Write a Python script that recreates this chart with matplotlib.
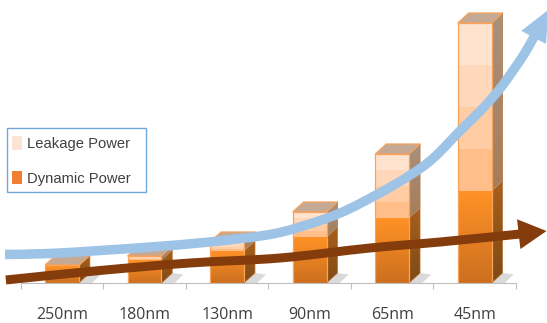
import matplotlib
matplotlib.use("Agg")
import matplotlib.pyplot as plt
import numpy as np
from matplotlib.colors import LinearSegmentedColormap
from matplotlib.patches import Patch, PathPatch, Polygon, Rectangle
from matplotlib.path import Path
from matplotlib.transforms import IdentityTransform

nodes = ["250nm", "180nm", "130nm", "90nm", "65nm", "45nm"]
dynamic = [17, 23, 32, 46, 65, 92]
leakage = [1, 4, 9, 25, 64, 168]

# trend curves, x in category slots
leak_x = [-0.19, 0.35, 0.96, 1.57, 2.29, 2.98, 3.38, 3.87, 4.35, 4.72, 5.0, 5.32, 5.53, 5.70, 5.84, 5.96, 6.10, 6.21, 6.39]
leak_y = [28.5, 29.5, 32.5, 36, 41, 48, 56, 70, 90, 108, 125, 152, 169, 184, 198, 212, 229, 245, 273]
dyn_x = [-0.18, 0.96, 2.05, 3.14, 4.23, 5.08, 6.05, 6.37]
dyn_y = [3, 12.5, 20, 25, 35, 41, 49, 52]

bar_w = 0.41
depth_x = 0.133
depth_y = 10
band_colors = ["#FFBE8A", "#FFCCA4", "#FFD8BB", "#FFE3CF"]
edge = "#F8A25A"

fig = plt.figure(figsize=(5.47, 3.23), dpi=100)
ax = fig.add_axes([20.7 / 547, 40 / 323, 495.3 / 547, 283 / 323])
ax.set_xlim(0, 6)
ax.set_ylim(0, 283)


def gradient(poly, top, bottom, z):
    # vertical colour ramp clipped to a polygon
    poly = np.array(poly)
    cmap = LinearSegmentedColormap.from_list("ramp", [top, bottom])
    extent = [poly[:, 0].min(), poly[:, 0].max(), poly[:, 1].min(), poly[:, 1].max()]
    im = ax.imshow(np.linspace(0, 1, 64).reshape(-1, 1), cmap=cmap, extent=extent,
                   origin="upper", aspect="auto", zorder=z)
    im.set_clip_path(Polygon(poly, transform=ax.transData))


def slant(x, y0, y1):
    return [(x, y0), (x + depth_x, y0 + depth_y), (x + depth_x, y1 + depth_y), (x, y1)]


def smooth_path(pts):
    # Catmull-Rom through the points, written as cubic beziers
    verts = [pts[0]]
    codes = [Path.MOVETO]
    for k in range(len(pts) - 1):
        p0 = pts[max(k - 1, 0)]
        p1 = pts[k]
        p2 = pts[k + 1]
        p3 = pts[min(k + 2, len(pts) - 1)]
        verts += [p1 + (p2 - p0) / 6, p2 - (p3 - p1) / 6, p2]
        codes += [Path.CURVE4] * 3
    return Path(verts, codes)


def arrow(xs, ys, color, width, head_len, head_w, z):
    # the head is built in pixels so it keeps its shape on unequal axis scales
    pts = ax.transData.transform(np.column_stack([xs, ys]))
    d = pts[-1] - pts[-2]
    d = d / np.hypot(*d)
    n = np.array([-d[1], d[0]])
    base = pts[-1] - d * head_len
    line = np.vstack([pts[:-1], base + d])
    px = IdentityTransform()
    ax.add_patch(PathPatch(smooth_path(line), fc="none", ec=color, lw=width * 0.72, transform=px,
                           capstyle="butt", joinstyle="round", zorder=z, clip_on=False))
    head = [pts[-1], base + n * head_w / 2, base - n * head_w / 2]
    ax.add_patch(Polygon(head, closed=True, fc=color, ec="none", transform=px,
                         zorder=z, clip_on=False))


for i, (d, l) in enumerate(zip(dynamic, leakage)):
    x0 = i + 0.5 - bar_w / 2
    x1 = x0 + bar_w
    total = d + l

    # floor shadow
    ax.add_patch(Polygon([(x1, 0), (x1 + depth_x, depth_y), (x1 + depth_x * 2, depth_y * 0.85),
                          (x1 + depth_x * 1.2, 0)], fc="#BDBDBD", ec="none", alpha=0.55, zorder=1))

    # right side
    gradient(slant(x1, 0, d), "#A8601C", "#7F4A15", 2)
    gradient(slant(x1, d, total), "#A8917E", "#A67C58", 2)

    # top
    ax.add_patch(Polygon([(x0, total), (x1, total), (x1 + depth_x, total + depth_y),
                          (x0 + depth_x, total + depth_y)], fc="#C4AA95", ec=edge, lw=0.9, zorder=3))

    # front
    gradient([(x0, 0), (x1, 0), (x1, d), (x0, d)], "#FF9226", "#CC6F1F", 3)
    bottom = d
    for c in band_colors:
        ax.bar(i + 0.5, l / 4, bar_w, bottom=bottom, color=c, lw=0, zorder=3)
        bottom += l / 4
    ax.bar(i + 0.5, total, bar_w, fc="none", ec=edge, lw=0.9, zorder=4)
    ax.plot([x1, x1 + depth_x, x1 + depth_x], [0, depth_y, total + depth_y],
            color="#B5743A", lw=0.5, zorder=4)

ax.set_xlim(0, 6)
ax.set_ylim(0, 283)
ax.set_xticks(range(7))
ax.set_xticklabels([])
ax.set_xticks(np.arange(6) + 0.5, minor=True)
ax.set_xticklabels(nodes, minor=True, family="Open Sans", fontsize=11.5, color="#404040")
ax.tick_params(axis="x", which="major", length=4.3, width=0.8, color="#BFBFBF")
ax.tick_params(axis="x", which="minor", length=0, pad=17.5)
ax.set_yticks([])
for s in ["top", "left", "right"]:
    ax.spines[s].set_visible(False)
ax.spines["bottom"].set_color("#BFBFBF")
ax.spines["bottom"].set_linewidth(0.8)
ax.patch.set_alpha(0)

arrow(leak_x, leak_y, "#9DC3E6", 9.5, 31, 28, 5)
arrow(dyn_x, dyn_y, "#843C0C", 9, 28, 30, 6)

fig.add_artist(Rectangle((6.5 / 547, 131.5 / 323), 139 / 547, 63.5 / 323, transform=fig.transFigure,
                         fc="white", ec="#6FA8DC", lw=1, zorder=10))
handles = [Patch(fc="#FBE3D5", ec="none"), Patch(fc="#F07F32", ec="none")]
leg = fig.legend(handles, ["Leakage Power", "Dynamic Power"], loc="lower left",
                 bbox_to_anchor=(12 / 547, 137.5 / 323), bbox_transform=fig.transFigure,
                 prop={"family": "Liberation Sans", "size": 10.6}, labelcolor="#404040",
                 handlelength=0.68, handleheight=1.0, handletextpad=0.35,
                 labelspacing=1.35, borderpad=0, borderaxespad=0, frameon=False)
leg.set_zorder(11)

fig.savefig("out.png", dpi=100)
